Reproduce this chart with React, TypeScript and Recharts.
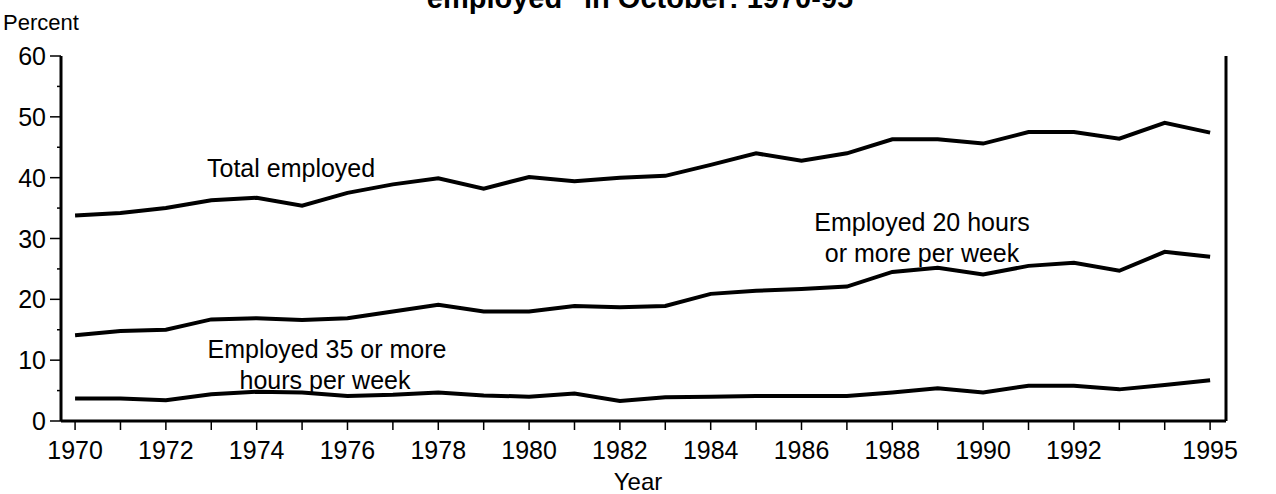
import { LineChart, Line, XAxis, YAxis } from "recharts";

const years = [
  1970, 1971, 1972, 1973, 1974, 1975, 1976, 1977, 1978, 1979, 1980, 1981, 1982,
  1983, 1984, 1985, 1986, 1987, 1988, 1989, 1990, 1991, 1992, 1993, 1994, 1995,
];

// percent of students employed
const totalEmployed = [
  33.8, 34.2, 35.0, 36.3, 36.7, 35.4, 37.5, 38.9, 39.9, 38.2, 40.1, 39.4, 40.0,
  40.3, 42.1, 44.0, 42.8, 44.0, 46.3, 46.3, 45.6, 47.5, 47.5, 46.4, 49.0, 47.4,
];
const employed20Hours = [
  14.1, 14.8, 15.0, 16.7, 16.9, 16.6, 16.9, 18.0, 19.1, 18.0, 18.0, 18.9, 18.7,
  18.9, 20.9, 21.4, 21.7, 22.1, 24.5, 25.2, 24.1, 25.5, 26.0, 24.7, 27.8, 27.0,
];
const employed35Hours = [
  3.7, 3.7, 3.4, 4.4, 4.8, 4.7, 4.1, 4.3, 4.7, 4.2, 4.0, 4.5, 3.3,
  3.9, 4.0, 4.1, 4.1, 4.1, 4.7, 5.4, 4.7, 5.8, 5.8, 5.2, 5.9, 6.7,
];

const yearLabels = [1970, 1972, 1974, 1976, 1978, 1980, 1982, 1984, 1986, 1988, 1990, 1992, 1995];
const percentTicks = [0, 5, 10, 15, 20, 25, 30, 35, 40, 45, 50, 55, 60];
const percentLabels = [0, 10, 20, 30, 40, 50, 60];

const data = years.map((year, i) => ({
  year,
  total: totalEmployed[i],
  h20: employed20Hours[i],
  h35: employed35Hours[i],
}));

const FONT = '"Liberation Sans", Arial, Helvetica, sans-serif';
const SIZE = 25;

const LeftTick = (props: any) => {
  const { x, y, payload } = props;
  const major = percentLabels.includes(payload.value);
  return (
    <g>
      <line x1={major ? x - 11 : x - 4} x2={x} y1={y} y2={y} stroke="#000" strokeWidth={1.5} />
      {major && (
        <text x={x - 15} y={y} dy="0.36em" textAnchor="end" fontFamily={FONT} fontSize={SIZE} fill="#000">
          {payload.value}
        </text>
      )}
    </g>
  );
};

const RightTick = (props: any) => {
  const { x, y, payload } = props;
  const major = percentLabels.includes(payload.value);
  return (
    <g>
      <line x1={x} x2={major ? x + 8 : x - 4} y1={y} y2={y} stroke="#000" strokeWidth={1.5} />
      {major && (
        <text x={x + 17} y={y} dy="0.36em" textAnchor="start" fontFamily={FONT} fontSize={SIZE} fill="#000">
          {payload.value}
        </text>
      )}
    </g>
  );
};

const YearTick = (props: any) => {
  const { x, y, payload } = props;
  const shown = yearLabels.includes(payload.value);
  return (
    <g>
      <line x1={x} x2={x} y1={y} y2={y + 9} stroke="#000" strokeWidth={1.5} />
      {shown && (
        <text x={x} y={y + 38} textAnchor="middle" fontFamily={FONT} fontSize={SIZE} fill="#000">
          {payload.value}
        </text>
      )}
    </g>
  );
};

const textStyle = { fontFamily: FONT, fontSize: SIZE, fill: "#000" };

export default function App() {
  return (
    <div style={{ position: "absolute", left: 0, top: 0, width: 1276, height: 494, background: "#fff" }}>
      <LineChart width={1276} height={494} data={data} margin={{ top: 56, right: 0, bottom: 0, left: 0 }}>
        <XAxis
          dataKey="year"
          type="number"
          domain={[1969.69, 1995.35]}
          ticks={years}
          interval={0}
          height={73}
          tickSize={0}
          tickMargin={0}
          tickLine={false}
          axisLine={{ stroke: "#000", strokeWidth: 3 }}
          tick={YearTick}
        />
        <YAxis
          yAxisId="left"
          domain={[0, 60]}
          ticks={percentTicks}
          interval={0}
          width={61}
          tickSize={0}
          tickMargin={0}
          tickLine={false}
          axisLine={{ stroke: "#000", strokeWidth: 3 }}
          tick={LeftTick}
        />
        <YAxis
          yAxisId="right"
          orientation="right"
          domain={[0, 60]}
          ticks={percentTicks}
          interval={0}
          width={50}
          tickSize={0}
          tickMargin={0}
          tickLine={false}
          axisLine={{ stroke: "#000", strokeWidth: 3 }}
          tick={RightTick}
        />
        <Line yAxisId="left" dataKey="total" type="linear" stroke="#000" strokeWidth={4} dot={false} activeDot={false} isAnimationActive={false} />
        <Line yAxisId="left" dataKey="h20" type="linear" stroke="#000" strokeWidth={4} dot={false} activeDot={false} isAnimationActive={false} />
        <Line yAxisId="left" dataKey="h35" type="linear" stroke="#000" strokeWidth={4} dot={false} activeDot={false} isAnimationActive={false} />
      </LineChart>
      <svg width={1276} height={494} style={{ position: "absolute", left: 0, top: 0, pointerEvents: "none" }}>
        <text x={640} y={8} textAnchor="middle" fontFamily={FONT} fontSize={29} fontWeight="bold" fill="#000">
          employed" in October: 1970-95
        </text>
        <text x={3} y={30} {...textStyle} fontSize={22}>Percent</text>
        <text x={207} y={177} {...textStyle}>Total employed</text>
        <text x={922} y={231} textAnchor="middle" {...textStyle}>Employed 20 hours</text>
        <text x={922} y={262} textAnchor="middle" {...textStyle}>or more per week</text>
        <text x={327} y={358} textAnchor="middle" {...textStyle}>Employed 35 or more</text>
        <text x={325} y={389} textAnchor="middle" {...textStyle}>hours per week</text>
        <text x={638} y={490} textAnchor="middle" {...textStyle} fontSize={24}>Year</text>
      </svg>
    </div>
  );
}
